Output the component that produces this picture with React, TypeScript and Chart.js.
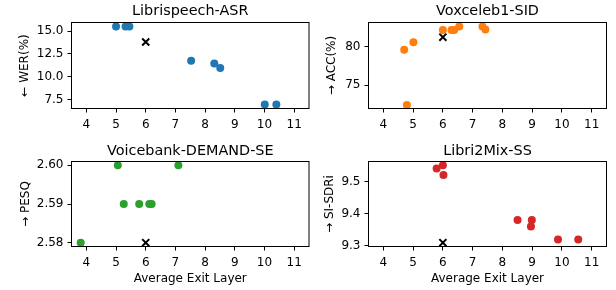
import React, { useEffect, useRef } from "react";
import { Chart, registerables } from "chart.js";

Chart.register(...registerables);

const FONT = "'DejaVu Sans', sans-serif";

// shared x axis
const xTickValues = [4, 5, 6, 7, 8, 9, 10, 11];
const xLabel = "Average Exit Layer";

// Librispeech-ASR
const asrExit = [5.0, 5.32, 5.45, 7.53, 8.31, 8.51, 10.01, 10.4];
const asrWer = [15.5, 15.5, 15.5, 11.75, 11.45, 10.95, 6.95, 6.95];
const asrBase = [6.0, 13.8];
const asrTicks = [7.5, 10.0, 12.5, 15.0];

// Voxceleb1-SID
const sidExit = [4.7, 5.01, 4.79, 6.0, 6.29, 6.38, 6.55, 7.33, 7.43];
const sidAcc = [79.6, 80.6, 72.4, 82.2, 82.2, 82.2, 82.65, 82.65, 82.25];
const sidBase = [6.0, 81.26];
const sidTicks = [75, 80];

// Voicebank-DEMAND-SE
const seExit = [3.81, 5.06, 7.1, 5.26, 5.78, 6.12, 6.2];
const sePesq = [2.58, 2.6, 2.6, 2.59, 2.59, 2.59, 2.59];
const seBase = [6.0, 2.58];
const seTicks = [2.58, 2.59, 2.6];

// Libri2Mix-SS
const ssExit = [5.79, 6.0, 6.02, 8.51, 8.99, 8.96, 9.87, 10.55];
const ssSdr = [9.54, 9.55, 9.52, 9.38, 9.38, 9.36, 9.32, 9.32];
const ssBase = [6.0, 9.31];
const ssTicks = [9.3, 9.4, 9.5];

type PanelCfg = {
  title: string;
  yLabel: string;
  xs: number[];
  ys: number[];
  base: number[];
  yTicks: number[];
  yDec: number;
  yMin: number;
  yMax: number;
  color: string;
  showXLabel: boolean;
  // layout
  left: number;
  top: number;
  w: number;
  h: number;
  yAxisW: number;
  xAxisH: number;
  padRight: number;
  titlePadTop: number;
  titlePadBottom: number;
  yTitlePad: number;
};

const panels: PanelCfg[] = [
  {
    title: "Librispeech-ASR", yLabel: "\u2190 WER(%)", xs: asrExit, ys: asrWer, base: asrBase,
    yTicks: asrTicks, yDec: 1, yMin: 6.51, yMax: 15.94, color: "#1f77b4", showXLabel: false,
    left: 0, top: 0, w: 316, h: 140, yAxisW: 71.5, xAxisH: 31.5, padRight: 5.5,
    titlePadTop: 2.2, titlePadBottom: 3.02, yTitlePad: 17.8,
  },
  {
    title: "Voxceleb1-SID", yLabel: "\u2192 ACC(%)", xs: sidExit, ys: sidAcc, base: sidBase,
    yTicks: sidTicks, yDec: 0, yMin: 71.95, yMax: 83.17, color: "#ff7f0e", showXLabel: false,
    left: 296, top: 0, w: 320, h: 140, yAxisW: 72.5, xAxisH: 31.5, padRight: 9.5,
    titlePadTop: 2.2, titlePadBottom: 3.02, yTitlePad: 29.1,
  },
  {
    title: "Voicebank-DEMAND-SE", yLabel: "\u2192 PESQ", xs: seExit, ys: sePesq, base: seBase,
    yTicks: seTicks, yDec: 2, yMin: 2.579, yMax: 2.601, color: "#2ca02c", showXLabel: true,
    left: 0, top: 141, w: 316, h: 149, yAxisW: 71.5, xAxisH: 43.5, padRight: 5.5,
    titlePadTop: 1.6, titlePadBottom: 1.62, yTitlePad: 18.5,
  },
  {
    title: "Libri2Mix-SS", yLabel: "\u2192 SI-SDRi", xs: ssExit, ys: ssSdr, base: ssBase,
    yTicks: ssTicks, yDec: 1, yMin: 9.298, yMax: 9.562, color: "#d62728", showXLabel: true,
    left: 296, top: 141, w: 320, h: 149, yAxisW: 72.5, xAxisH: 43.5, padRight: 9.5,
    titlePadTop: 1.6, titlePadBottom: 1.62, yTitlePad: 26.8,
  },
];

const framePlugin = {
  id: "frame",
  afterDraw(chart: any) {
    const { ctx, chartArea: a } = chart;
    ctx.save();
    ctx.strokeStyle = "#000";
    ctx.lineWidth = 1;
    ctx.strokeRect(a.left, a.top, a.right - a.left, a.bottom - a.top);
    ctx.restore();
  },
};

function Panel({ cfg }: { cfg: PanelCfg }) {
  const ref = useRef<HTMLCanvasElement>(null);
  useEffect(() => {
    const chart = new Chart(ref.current as HTMLCanvasElement, {
      type: "scatter",
      data: {
        datasets: [
          {
            data: cfg.xs.map((x, i) => ({ x, y: cfg.ys[i] })),
            backgroundColor: cfg.color,
            borderColor: cfg.color,
            pointRadius: 4,
            pointBorderWidth: 0,
            pointStyle: "circle",
            clip: false,
          } as any,
          {
            data: [{ x: cfg.base[0], y: cfg.base[1] }],
            backgroundColor: "#000",
            borderColor: "#000",
            pointRadius: 5,
            pointBorderWidth: 2,
            pointStyle: "crossRot",
            clip: false,
          } as any,
        ],
      },
      options: {
        responsive: false,
        animation: false,
        devicePixelRatio: 1,
        layout: { padding: { left: 0, top: 0, bottom: 0, right: cfg.padRight } },
        plugins: {
          legend: { display: false },
          tooltip: { enabled: false },
          title: {
            display: true,
            fullSize: false,
            text: cfg.title,
            color: "#000",
            font: { family: FONT, size: 14.4, weight: "normal" },
            padding: { top: cfg.titlePadTop, bottom: cfg.titlePadBottom },
          },
        },
        scales: {
          x: {
            type: "linear",
            min: 3.5,
            max: 11.5,
            afterBuildTicks: (s: any) => {
              s.ticks = xTickValues.map((v) => ({ value: v }));
            },
            afterFit: (s: any) => {
              s.height = cfg.xAxisH;
            },
            ticks: {
              color: "#000",
              font: { family: FONT, size: 12 },
              padding: 5,
              maxRotation: 0,
              autoSkip: false,
              callback: (v: any) => String(v),
            },
            grid: {
              display: true,
              drawOnChartArea: false,
              drawTicks: true,
              tickLength: 4,
              color: "#000",
              lineWidth: 1,
            },
            border: { display: false },
            title: {
              display: cfg.showXLabel,
              text: xLabel,
              color: "#000",
              font: { family: FONT, size: 12 },
              padding: { top: 0, bottom: 4.3 },
            },
          },
          y: {
            type: "linear",
            min: cfg.yMin,
            max: cfg.yMax,
            afterBuildTicks: (s: any) => {
              s.ticks = cfg.yTicks.map((v) => ({ value: v }));
            },
            afterFit: (s: any) => {
              s.width = cfg.yAxisW;
            },
            ticks: {
              color: "#000",
              font: { family: FONT, size: 12 },
              padding: 4,
              autoSkip: false,
              callback: (v: any) => Number(v).toFixed(cfg.yDec),
            },
            grid: {
              display: true,
              drawOnChartArea: false,
              drawTicks: true,
              tickLength: 4,
              color: "#000",
              lineWidth: 1,
            },
            border: { display: false },
            title: {
              display: true,
              text: cfg.yLabel,
              color: "#000",
              font: { family: FONT, size: 12 },
              padding: { top: cfg.yTitlePad, bottom: 0 },
            },
          },
        },
      } as any,
      plugins: [framePlugin],
    });
    return () => chart.destroy();
  }, [cfg]);
  return (
    <canvas
      ref={ref}
      width={cfg.w}
      height={cfg.h}
      style={{ position: "absolute", left: cfg.left, top: cfg.top, width: cfg.w, height: cfg.h }}
    />
  );
}

export default function App() {
  return (
    <div
      style={{
        position: "fixed",
        left: 0,
        top: 0,
        width: 616,
        height: 290,
        background: "#fff",
        overflow: "hidden",
      }}
    >
      {panels.map((p) => (
        <Panel key={p.title} cfg={p} />
      ))}
    </div>
  );
}
